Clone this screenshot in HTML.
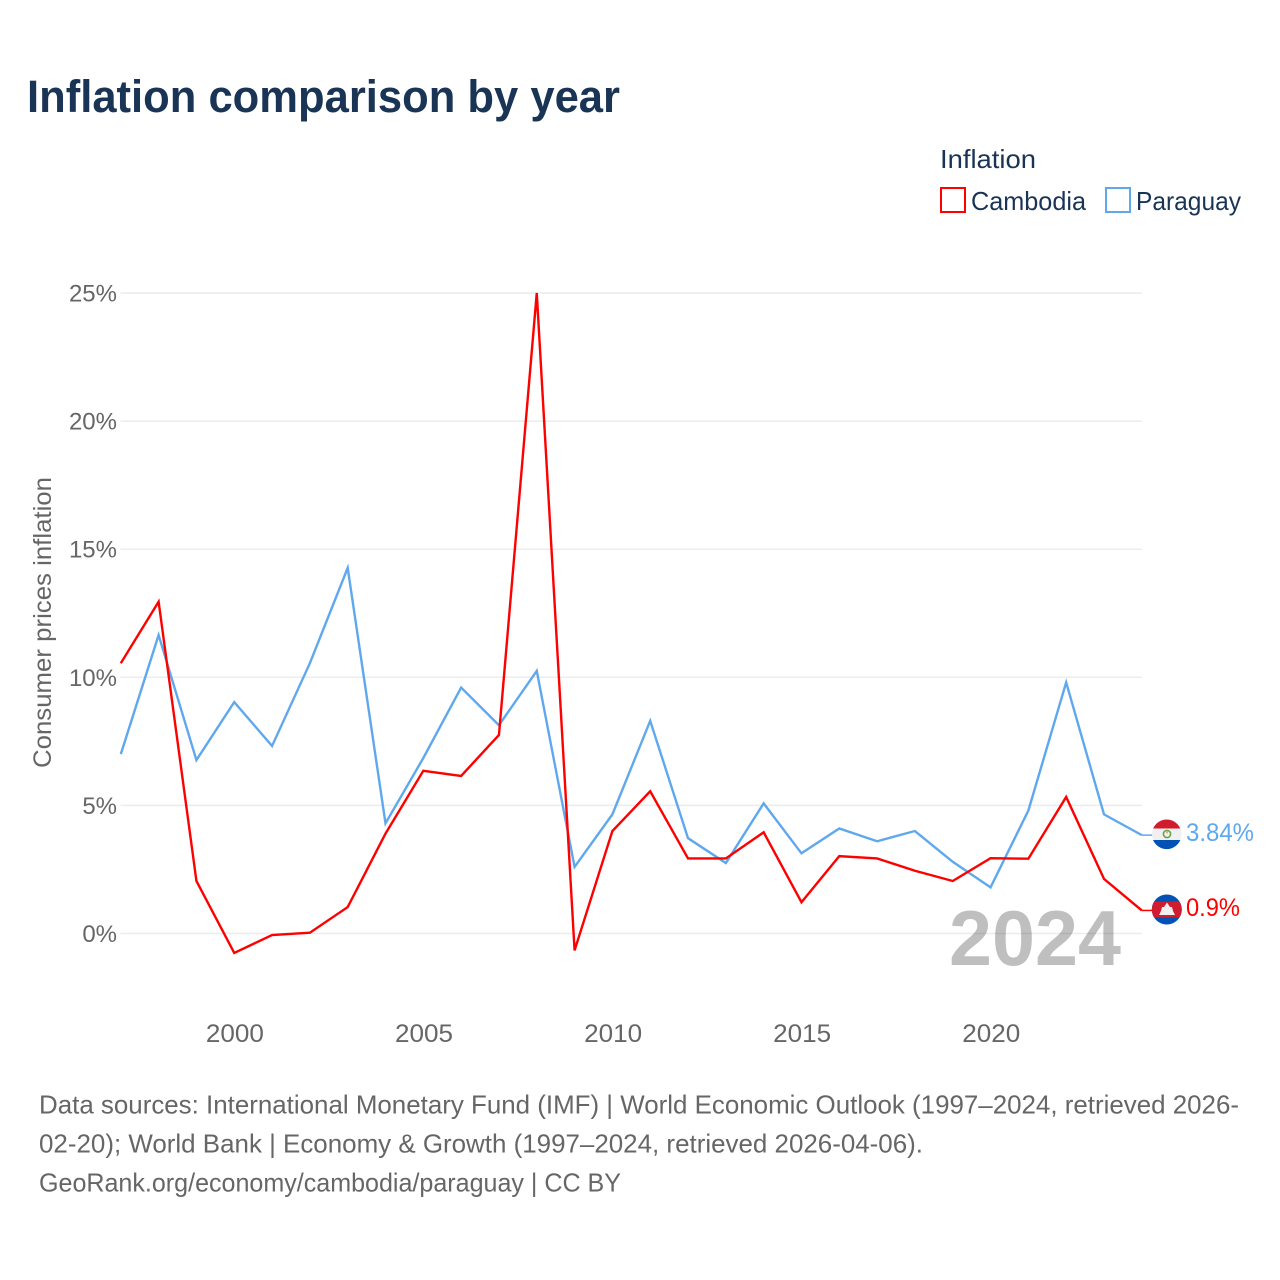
<!DOCTYPE html>
<html lang="en">
<head>
<meta charset="utf-8">
<title>Inflation comparison by year</title>
<style>
html,body{margin:0;padding:0;background:#fff;width:1280px;height:1280px;overflow:hidden}
svg{display:block}
text{font-family:"Liberation Sans",sans-serif}
</style>
</head>
<body>
<svg id="chart" width="1280" height="1280" viewBox="0 0 1280 1280" xmlns="http://www.w3.org/2000/svg">
  <defs>
    <clipPath id="flag-py-clip"><circle cx="1166.7" cy="834.3" r="14.8"/></clipPath>
    <clipPath id="flag-kh-clip"><circle cx="1166.8" cy="909.5" r="15"/></clipPath>
  </defs>
  <text x="27" y="112" font-size="45" font-weight="700" fill="#1a3455" textLength="593" lengthAdjust="spacingAndGlyphs">Inflation comparison by year</text>

  <text x="940" y="168" font-size="26" fill="#1a3455" textLength="96" lengthAdjust="spacingAndGlyphs">Inflation</text>
  <rect x="941" y="188" width="24" height="24" fill="#fff" stroke="#ff0000" stroke-width="2"/>
  <text x="971" y="210" font-size="26" fill="#1a3455" textLength="115" lengthAdjust="spacingAndGlyphs">Cambodia</text>
  <rect x="1106" y="188" width="24" height="24" fill="#fff" stroke="#5fa8ee" stroke-width="2"/>
  <text x="1136" y="210" font-size="26" fill="#1a3455" textLength="105" lengthAdjust="spacingAndGlyphs">Paraguay</text>

  <g id="grid"></g>
  <g id="yticks"></g>
  <g id="xticks"></g>
  <text transform="translate(51,768) rotate(-90)" font-size="25" fill="#666666" textLength="291" lengthAdjust="spacingAndGlyphs">Consumer prices inflation</text>

  <text x="949" y="965" font-size="78" font-weight="700" fill="#000000" fill-opacity="0.25" textLength="172" lengthAdjust="spacingAndGlyphs">2024</text>

  <g id="series"></g>

  <g clip-path="url(#flag-py-clip)">
    <rect x="1151" y="819" width="32" height="9.5" fill="#d01c2e"/>
    <rect x="1151" y="828.5" width="32" height="11.5" fill="#f0f0f0"/>
    <rect x="1151" y="840" width="32" height="10" fill="#0052b4"/>
    <circle cx="1167" cy="834" r="3.6" fill="none" stroke="#6da544" stroke-width="1.6"/>
    <circle cx="1167" cy="832.5" r="1" fill="#d8a0a0"/>
  </g>
  <g clip-path="url(#flag-kh-clip)">
    <rect x="1151" y="894" width="32" height="31" fill="#0052b4"/>
    <rect x="1151" y="901.5" width="32" height="16" fill="#d01c2e"/>
    <polygon points="1167,902.5 1170,907 1172,907 1173,911 1175,915 1159,915 1161,911 1162,907 1164,907" fill="#f0f0f0"/>
  </g>
  <text x="1186" y="841" font-size="25" fill="#5fa8ee" textLength="68" lengthAdjust="spacingAndGlyphs">3.84%</text>
  <text x="1186" y="916" font-size="25" fill="#ff0000" textLength="54" lengthAdjust="spacingAndGlyphs">0.9%</text>

  <g font-size="26" fill="#666666">
    <text x="39" y="1113.5" textLength="1200" lengthAdjust="spacingAndGlyphs">Data sources: International Monetary Fund (IMF) | World Economic Outlook (1997–2024, retrieved 2026-</text>
    <text x="39" y="1152.5" textLength="884" lengthAdjust="spacingAndGlyphs">02-20); World Bank | Economy &amp; Growth (1997–2024, retrieved 2026-04-06).</text>
    <text x="39" y="1191.5" textLength="582" lengthAdjust="spacingAndGlyphs">GeoRank.org/economy/cambodia/paraguay | CC BY</text>
  </g>
</svg>
<script>
const years = [1997,1998,1999,2000,2001,2002,2003,2004,2005,2006,2007,2008,2009,2010,2011,2012,2013,2014,2015,2016,2017,2018,2019,2020,2021,2022,2023,2024];
const cambodia = [10.55,12.95,2.05,-0.76,-0.06,0.03,1.03,3.9,6.35,6.15,7.75,25.0,-0.66,4.0,5.55,2.93,2.93,3.95,1.22,3.02,2.93,2.45,2.05,2.94,2.92,5.33,2.13,0.9];
const paraguay = [7.0,11.65,6.77,9.03,7.32,10.55,14.27,4.3,6.85,9.6,8.13,10.25,2.6,4.65,8.3,3.72,2.75,5.08,3.13,4.1,3.6,4.0,2.8,1.8,4.8,9.8,4.65,3.84];
const yTicks = [0,5,10,15,20,25];
const xTicks = [2000,2005,2010,2015,2020];

const NS = 'http://www.w3.org/2000/svg';
function xScale(year){ return 120.8 + (year - 1997) * (1141.8 - 120.8) / 27; }
function yScale(value){ return 933.5 - value * (933.5 - 293) / 25; }
function make(tag, attrs, parent){
  const el = document.createElementNS(NS, tag);
  for (const k in attrs) el.setAttribute(k, attrs[k]);
  parent.appendChild(el);
  return el;
}
const grid = document.getElementById('grid');
const yLabels = document.getElementById('yticks');
const xLabels = document.getElementById('xticks');
const series = document.getElementById('series');

yTicks.forEach(function(t){
  const line = make('line', {x1:120.5, x2:1142, y1:yScale(t), y2:yScale(t), stroke:'#ececec', 'stroke-width':1.5}, grid);
  
  
  const label = make('text', {x:117, y:yScale(t)+8.5, 'text-anchor':'end', 'font-size':24, fill:'#666666'}, yLabels);
  label.textContent = t + '%';
  
  
});
xTicks.forEach(function(t){
  const label = make('text', {x:xScale(t) + 0.7, y:1042, 'text-anchor':'middle', 'font-size':25, fill:'#666666', textLength:58, lengthAdjust:'spacingAndGlyphs'}, xLabels);
  label.textContent = String(t);
  
  
});
function points(values){
  return years.map(function(y, i){ return xScale(y).toFixed(2) + ',' + yScale(values[i]).toFixed(2); }).join(' ');
}
const blue = make('polyline', {points:points(paraguay), fill:'none', stroke:'#5fa8ee', 'stroke-width':2.4, 'stroke-linejoin':'miter'}, series);


const red = make('polyline', {points:points(cambodia), fill:'none', stroke:'#ff0000', 'stroke-width':2.4, 'stroke-linejoin':'miter'}, series);


const lastX = xScale(years[years.length - 1]);
const blueTail = make('line', {x1:lastX, x2:lastX + 11, y1:yScale(paraguay[paraguay.length - 1]), y2:yScale(paraguay[paraguay.length - 1]), stroke:'#5fa8ee', 'stroke-width':1.5}, series);


const redTail = make('line', {x1:lastX, x2:lastX + 11, y1:yScale(cambodia[cambodia.length - 1]), y2:yScale(cambodia[cambodia.length - 1]), stroke:'#ff0000', 'stroke-width':1.5}, series);


</script>
</body>
</html>
